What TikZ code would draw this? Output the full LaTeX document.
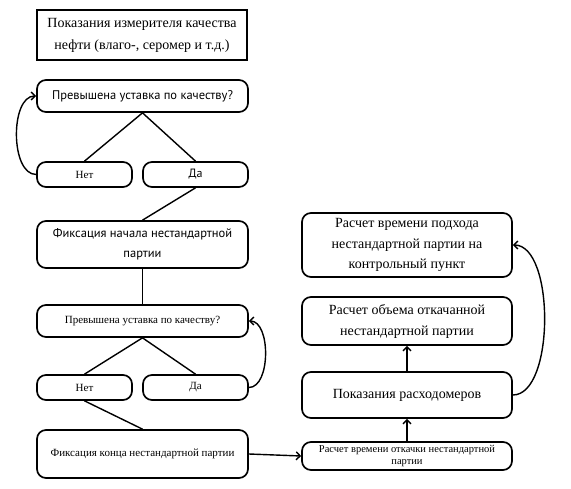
\documentclass[tikz,border=0pt]{standalone}
\usepackage{fontspec}
\setmainfont{Liberation Serif}
\newfontfamily\sansf{PT Sans}
\usetikzlibrary{arrows.meta}
\begin{document}
\begin{tikzpicture}[x=1pt,y=-1pt,
  box/.style={draw,line width=1.7pt,rounded corners=9pt,align=center,inner sep=0pt,minimum width=211pt},
  conn/.style={line width=1.4pt},
  arr/.style={line width=1.4pt,-{Straight Barb[length=4pt,width=8pt]}}]
\useasboundingbox (0,0) rectangle (571,489);
\node[draw,line width=1.8pt,minimum width=210pt,minimum height=50pt,align=center,inner sep=0pt,font=\fontsize{14}{22}\selectfont] (title) at (142,35) {Показания измерителя качества\\нефти (влаго-, серомер и т.д.)};
\node[box,minimum height=32pt,font=\sansf\fontsize{12.5}{15}\selectfont] (q1) at (142.5,96) {Превышена уставка по качеству?};
\node[box,minimum width=95pt,minimum height=25pt,font=\fontsize{11}{13}\selectfont] (n1) at (84.5,174.5) {Нет};
\node[box,minimum width=105pt,minimum height=25pt,font=\sansf\fontsize{12}{14}\selectfont] (d1) at (195.5,174.5) {Да};
\node[box,minimum height=47pt,font=\sansf\fontsize{12.5}{20}\selectfont] (f1) at (142.5,244.5) {Фиксация начала нестандартной\\партии};
\node[box,minimum height=32pt,font=\fontsize{11}{13}\selectfont] (q2) at (142.5,321) {Превышена уставка по качеству?};
\node[box,minimum width=95pt,minimum height=25pt,font=\fontsize{11}{13}\selectfont] (n2) at (84.5,387.5) {Нет};
\node[box,minimum width=105pt,minimum height=25pt,font=\fontsize{11}{13}\selectfont] (d2) at (195.5,387.5) {Да};
\node[box,minimum height=48pt,font=\fontsize{11}{13}\selectfont] (f2) at (142.5,454) {Фиксация конца нестандартной партии};
\node[box,minimum width=210pt,minimum height=28pt,font=\fontsize{10.5}{12.5}\selectfont] (c1) at (407,456) {Расчет времени откачки нестандартной\\партии};
\node[box,minimum width=210pt,minimum height=46pt,font=\fontsize{14}{16}\selectfont] (p1) at (407,395) {Показания расходомеров};
\node[box,minimum width=210pt,minimum height=48pt,font=\fontsize{14}{21}\selectfont] (o1) at (407,321) {Расчет объема откачанной\\нестандартной партии};
\node[box,minimum width=210pt,minimum height=64pt,font=\fontsize{14}{20.5}\selectfont] (t1) at (407,245) {Расчет времени подхода\\нестандартной партии на\\контрольный пункт};
\draw[conn] (q1.south) -- (n1.north);
\draw[conn] (q1.south) -- (d1.north);
\draw[conn] (d1.south) -- (f1.north);
\draw[conn] (f1.south) -- (q2.north);
\draw[conn] (q2.south) -- (n2.north);
\draw[conn] (q2.south) -- (d2.north);
\draw[conn] (n2.south) -- (f2.north);
\draw[arr] (n1.west) to[out=180,in=180,looseness=0.85] (q1.west);
\draw[arr] (d2.east) to[out=0,in=0,looseness=0.85] (q2.east);
\draw[arr] (f2.east) -- (c1.west);
\draw[arr] (c1.north) -- (p1.south);
\draw[arr] (p1.north) -- (o1.south);
\draw[arr] (p1.east) to[out=0,in=0,looseness=0.72] (t1.east);
\end{tikzpicture}
\end{document}
